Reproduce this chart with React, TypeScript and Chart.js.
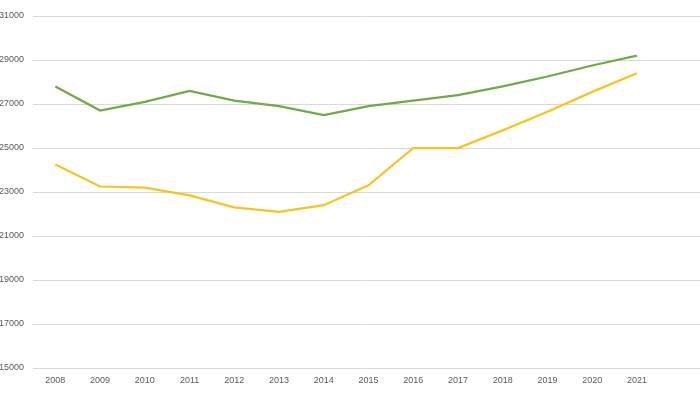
import React, { useEffect, useRef } from "react";
import { Chart, registerables } from "chart.js";

Chart.register(...registerables);

const years = [2008, 2009, 2010, 2011, 2012, 2013, 2014, 2015, 2016, 2017, 2018, 2019, 2020, 2021];
const greenSeries = [27800, 26700, 27100, 27600, 27150, 26900, 26500, 26900, 27150, 27400, 27800, 28250, 28750, 29200];
const yellowSeries = [24250, 23250, 23200, 22850, 22300, 22100, 22400, 23300, 25000, 25000, 25800, 26650, 27550, 28400];
const yMin = 15000;
const yMax = 31000;
const yStep = 2000;

export default function App() {
  const ref = useRef<HTMLCanvasElement | null>(null);

  useEffect(() => {
    if (!ref.current) return;
    const font = { family: "'Liberation Sans', Arial, sans-serif", size: 9 };
    const chart = new Chart(ref.current, {
      type: "line",
      data: {
        datasets: [
          {
            label: "Series 1",
            data: years.map((y, i) => ({ x: y, y: greenSeries[i] })),
            borderColor: "#6FAA48",
            backgroundColor: "#6FAA48",
            borderWidth: 2.25,
            pointRadius: 0,
            tension: 0,
          },
          {
            label: "Series 2",
            data: years.map((y, i) => ({ x: y, y: yellowSeries[i] })),
            borderColor: "#F6C320",
            backgroundColor: "#F6C320",
            borderWidth: 2.25,
            pointRadius: 0,
            tension: 0,
          },
        ],
      },
      options: {
        animation: false,
        responsive: true,
        maintainAspectRatio: false,
        layout: { padding: { top: 16, bottom: 8, left: 0, right: 0 } },
        plugins: { legend: { display: false }, tooltip: { enabled: false } },
        scales: {
          x: {
            type: "linear",
            min: 2007.5,
            max: 2022.41,
            grid: { display: false, drawTicks: false },
            border: { display: false },
            ticks: {
              stepSize: 1,
              includeBounds: false,
              autoSkip: false,
              maxRotation: 0,
              padding: 7,
              color: "#595959",
              font,
              callback: (v: any) => (Number.isInteger(v) && v <= 2021 ? String(v) : ""),
            },
            afterFit: (scale: any) => {
              scale.height = 18;
            },
          },
          y: {
            min: yMin,
            max: yMax,
            grid: { color: "#D9D9D9", lineWidth: 1, drawTicks: false },
            border: { display: false },
            ticks: {
              stepSize: yStep,
              padding: 9,
              color: "#595959",
              font,
              callback: (v: any) => String(v),
            },
            afterFit: (scale: any) => {
              scale.width = 33;
            },
          },
        },
      },
    });
    return () => chart.destroy();
  }, []);

  return (
    <div style={{ position: "absolute", left: 0, top: 0, width: 700, height: 394, background: "#fff" }}>
      <canvas ref={ref} />
    </div>
  );
}
